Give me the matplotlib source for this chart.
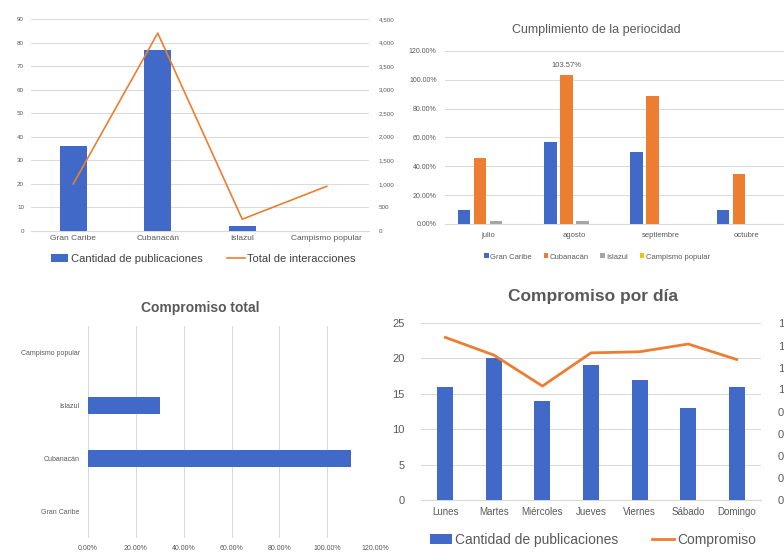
import matplotlib.pyplot as plt
import numpy as np
from matplotlib.ticker import FuncFormatter

plt.rcParams['font.family'] = ['Liberation Sans', 'DejaVu Sans']

# data
hoteles = ['Gran Caribe', 'Cubanacán', 'Islazul', 'Campismo popular']
publicaciones = [36, 77, 2, 0]
interacciones = [1000, 4200, 250, 950]

meses = ['julio', 'agosto', 'septiembre', 'octubre']
cumpl_gran_caribe = [0.10, 0.57, 0.50, 0.10]
cumpl_cubanacan = [0.46, 1.0357, 0.89, 0.35]
cumpl_islazul = [0.02, 0.02, 0.0, 0.0]
cumpl_campismo = [0.0, 0.0, 0.0, 0.0]

compromiso_total = [0.0, 1.10, 0.30, 0.0]

dias = ['Lunes', 'Martes', 'Miércoles', 'Jueves', 'Viernes', 'Sábado', 'Domingo']
pub_dia = [16, 20, 14, 19, 17, 13, 16]
compromiso_dia = [1.47, 1.31, 1.03, 1.33, 1.34, 1.41, 1.27]

BLUE = '#4169c8'
ORANGE = '#ed7d31'
GRAY = '#a5a5a5'
YELLOW = '#ffc000'
TXT = '#595959'
GRID = '#d9d9d9'

W, H = 784, 556
fig = plt.figure(figsize=(W / 100, H / 100), dpi=100)


def px(l, t, r, b):
    return [l / W, 1 - b / H, (r - l) / W, (b - t) / H]


def clean(ax):
    for s in ax.spines.values():
        s.set_visible(False)
    ax.tick_params(length=0, colors=TXT)


# ---- top left: publicaciones / interacciones
ax1 = fig.add_axes(px(31, 19, 369, 231))
x = np.arange(len(hoteles))
b1 = ax1.bar(x, publicaciones, width=0.32, color=BLUE, zorder=3)
ax1.set_ylim(0, 90)
ax1.set_yticks(range(0, 91, 10))
ax1.set_xlim(-0.5, 3.5)
ax1.set_xticks(x)
ax1.set_xticklabels(hoteles, fontsize=6)
ax1.grid(axis='y', color=GRID, lw=0.7, zorder=0)
clean(ax1)
ax1.tick_params(axis='y', labelsize=4.5, pad=5)
ax1.tick_params(axis='x', pad=3)
ax1.spines['bottom'].set_visible(True)
ax1.spines['bottom'].set_color(GRID)
ax1b = ax1.twinx()
l1, = ax1b.plot(x, interacciones, color=ORANGE, lw=1.2)
ax1b.set_ylim(0, 4500)
ax1b.set_yticks(range(0, 4501, 500))
ax1b.yaxis.set_major_formatter(FuncFormatter(lambda v, p: f'{int(v):,}'))
clean(ax1b)
ax1b.tick_params(axis='y', labelsize=4.5, pad=7)
fig.legend([b1, l1], ['Cantidad de publicaciones', 'Total de interacciones'],
           loc='center', bbox_to_anchor=(203 / W, 1 - 259 / H), ncol=2,
           frameon=False, fontsize=8, handlelength=1.6, columnspacing=2.2,
           handletextpad=0.2, labelcolor='#404040')

# ---- top right: cumplimiento de la periocidad
ax2 = fig.add_axes(px(445, 51, 790, 224))
xm = np.arange(len(meses))
series = [cumpl_gran_caribe, cumpl_cubanacan, cumpl_islazul, cumpl_campismo]
cols = [BLUE, ORANGE, GRAY, YELLOW]
bars2 = []
for i, (s, c) in enumerate(zip(series, cols)):
    bars2.append(ax2.bar(xm + (i - 1.5) * 0.186, s, width=0.145, color=c, zorder=3))
ax2.text(xm[1] - 0.5 * 0.186, cumpl_cubanacan[1] + 0.04, f'{cumpl_cubanacan[1]:.2%}',
         ha='center', va='bottom', fontsize=5.5, color=TXT)
ax2.set_ylim(0, 1.2)
ax2.set_yticks(np.arange(0, 1.21, 0.2))
ax2.yaxis.set_major_formatter(FuncFormatter(lambda v, p: f'{v * 100:.2f}%'))
ax2.set_xlim(-0.5, 3.5)
ax2.set_xticks(xm)
ax2.set_xticklabels(meses, fontsize=5.5)
ax2.grid(axis='y', color=GRID, lw=0.7, zorder=0)
clean(ax2)
ax2.tick_params(axis='y', labelsize=5, pad=6)
ax2.tick_params(axis='x', pad=6)
ax2.spines['bottom'].set_visible(True)
ax2.spines['bottom'].set_color(GRID)
fig.text(596 / W, 1 - 30 / H, 'Cumplimiento de la periocidad', ha='center', va='center',
         fontsize=9, color=TXT)
fig.legend(bars2, hoteles, loc='center', bbox_to_anchor=(597 / W, 1 - 257 / H), ncol=4,
           frameon=False, fontsize=5.5, handlelength=0.6, handleheight=0.6,
           columnspacing=1.5, handletextpad=0.2, labelcolor=TXT)

# ---- bottom left: compromiso total
ax3 = fig.add_axes(px(88, 326, 375, 538))
y = np.arange(len(hoteles))
ax3.barh(y, compromiso_total, height=0.33, color=BLUE, zorder=3)
ax3.set_xlim(0, 1.2)
ax3.set_xticks(np.arange(0, 1.21, 0.2))
ax3.xaxis.set_major_formatter(FuncFormatter(lambda v, p: f'{v * 100:.2f}%'))
ax3.set_ylim(-0.5, 3.5)
ax3.set_yticks(y)
ax3.set_yticklabels(hoteles, fontsize=5)
ax3.grid(axis='x', color=GRID, lw=0.7, zorder=0)
clean(ax3)
ax3.tick_params(axis='x', labelsize=5, pad=5)
ax3.tick_params(axis='y', pad=6)
fig.text(200 / W, 1 - 308 / H, 'Compromiso total', ha='center', va='center',
         fontsize=10, fontweight='bold', color=TXT)

# ---- bottom right: compromiso por dia
ax4 = fig.add_axes(px(421, 323, 761, 500))
xd = np.arange(len(dias))
b4 = ax4.bar(xd, pub_dia, width=0.33, color=BLUE, zorder=3)
ax4.set_ylim(0, 25)
ax4.set_yticks(range(0, 26, 5))
ax4.set_xlim(-0.5, 6.5)
ax4.set_xticks(xd)
ax4.set_xticklabels(dias, fontsize=7)
ax4.grid(axis='y', color=GRID, lw=0.7, zorder=0)
clean(ax4)
ax4.tick_params(axis='y', labelsize=8, pad=12)
ax4.tick_params(axis='x', pad=5)
ax4.spines['bottom'].set_visible(True)
ax4.spines['bottom'].set_color(GRID)
ax4b = ax4.twinx()
l4, = ax4b.plot(xd, compromiso_dia, color=ORANGE, lw=2)
ax4b.set_ylim(0, 1.6)
ax4b.set_yticks(np.arange(0, 1.61, 0.2))
ax4b.yaxis.set_major_formatter(FuncFormatter(lambda v, p: f'{v:g}'.replace('.', ',')))
clean(ax4b)
ax4b.tick_params(axis='y', labelsize=8, pad=12)
fig.text(593 / W, 1 - 297 / H, 'Compromiso por día', ha='center', va='center',
         fontsize=12.5, fontweight='bold', color=TXT)
fig.legend([b4, l4], ['Cantidad de publicaciones', 'Compromiso'], loc='center',
           bbox_to_anchor=(593 / W, 1 - 540 / H), ncol=2, frameon=False, fontsize=10,
           handlelength=1.6, columnspacing=2.4, handletextpad=0.2, labelcolor=TXT)

fig.savefig('out.png', dpi=100, facecolor='white')
